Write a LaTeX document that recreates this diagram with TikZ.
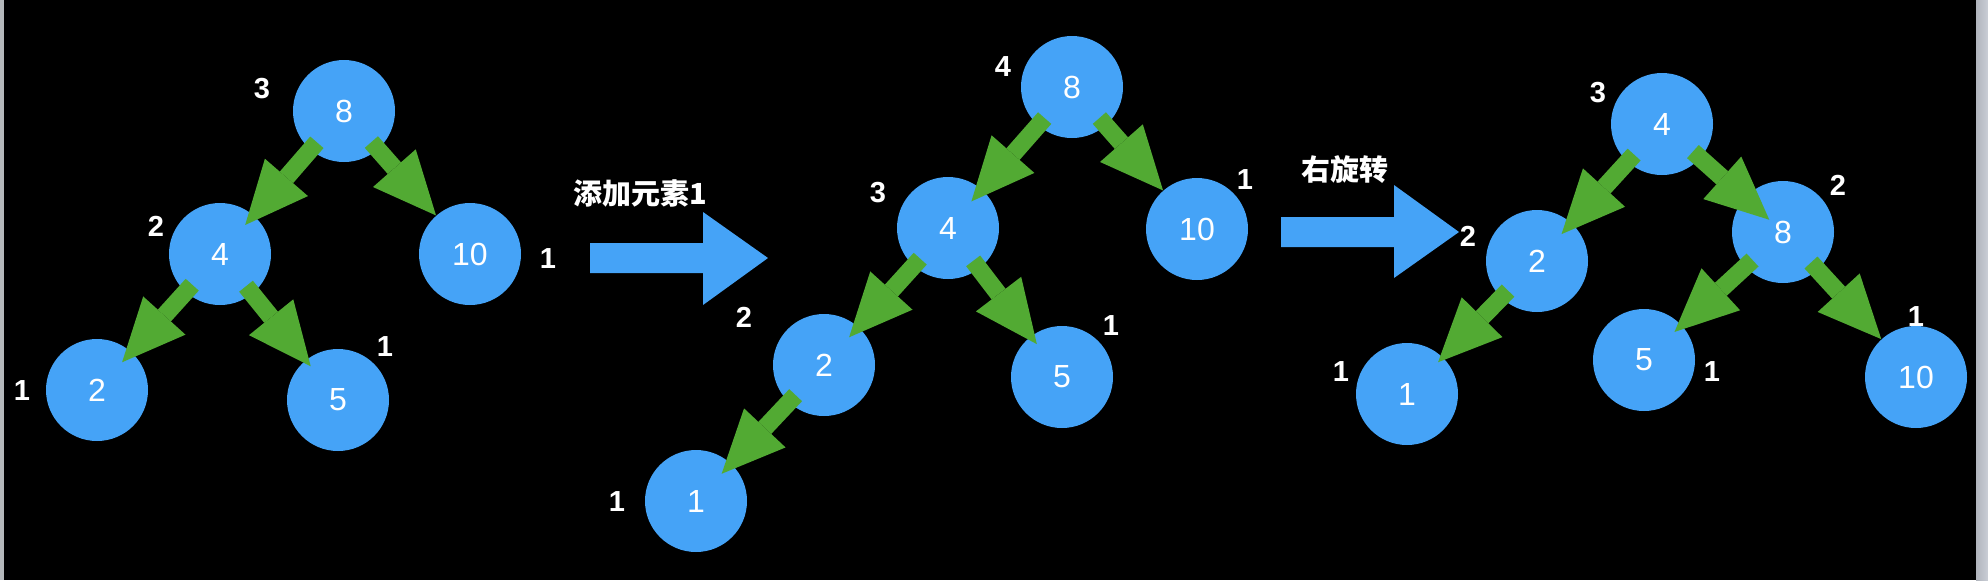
\documentclass[tikz,border=0pt]{standalone}
\usepackage{fontspec}
\setmainfont{Liberation Sans}
\newfontfamily\cjk{Noto Sans CJK SC}
\usetikzlibrary{arrows.meta}
\definecolor{nodeblue}{HTML}{45A3F7}
\definecolor{edgegreen}{HTML}{52AA33}
\definecolor{leftgrey}{HTML}{B4B8BC}
\definecolor{rgreyA}{HTML}{B0B4BC}
\definecolor{rgreyB}{HTML}{CACED6}
\tikzset{
  tnode/.style={circle, fill=nodeblue, minimum size=51pt, inner sep=0pt, text=white,
    font=\fontsize{16pt}{18pt}\selectfont},
  hlabel/.style={text=white, inner sep=0pt, font=\fontsize{14.5pt}{16pt}\selectfont\bfseries},
  cjklabel/.style={text=white, inner sep=0pt, font=\cjk\bfseries\fontsize{14.5pt}{17pt}\selectfont},
  edge/.style={draw=edgegreen, line width=8.8pt,
    -{Triangle[length=31.5pt, width=28.5pt, line width=0pt]}, shorten <=-5pt},
  bigarrow/.style={fill=nodeblue},
}
\begin{document}
\begin{tikzpicture}[x=0.5pt, y=-0.5pt]
\useasboundingbox (0,0) rectangle (1988,580);
\fill[black] (0,0) rectangle (1988,580);
\fill[leftgrey] (0,0) rectangle (4,580);
\shade[left color=rgreyA, right color=rgreyB] (1976,0) rectangle (1988,580);

% Tree 1
\node[tnode] (a8)  at (344,111) {8};
\node[tnode] (a4)  at (220,254) {4};
\node[tnode] (a10) at (470,254) {10};
\node[tnode] (a2)  at (97,390)  {2};
\node[tnode] (a5)  at (338,400) {5};
\draw[edge, shorten >=-6.5pt] (a8) -- (a4);
\draw[edge] (a8) -- (a10);
\draw[edge, shorten >=-7pt] (a4) -- (a2);
\draw[edge, shorten >=-4pt] (a4) -- (a5);

% Arrow 1
\fill[bigarrow] (590,243) -- (703,243) -- (703,212) -- (768,258) -- (703,305) -- (703,273) -- (590,273) -- cycle;
\node[cjklabel] (t1) at (640,193) {添加元素1};

% Tree 2
\node[tnode] (b8)  at (1072,87)  {8};
\node[tnode] (b4)  at (948,228)  {4};
\node[tnode] (b10) at (1197,229) {10};
\node[tnode] (b2)  at (824,365)  {2};
\node[tnode] (b5)  at (1062,377) {5};
\node[tnode] (b1)  at (696,501)  {1};
\draw[edge, shorten >=-8pt] (b8) -- (b4);
\draw[edge] (b8) -- (b10);
\draw[edge, shorten >=-7pt] (b4) -- (b2);
\draw[edge, shorten >=-5pt] (b4) -- (b5);
\draw[edge, shorten >=-7pt] (b2) -- (b1);

% Arrow 2
\fill[bigarrow] (1281,217) -- (1394,217) -- (1394,185) -- (1459,232) -- (1394,278) -- (1394,247) -- (1281,247) -- cycle;
\node[cjklabel] (t2) at (1345,170) {右旋转};

% Tree 3
\node[tnode] (c4)  at (1662,124) {4};
\node[tnode] (c2)  at (1537,261) {2};
\node[tnode] (c8)  at (1783,232) {8};
\node[tnode] (c1)  at (1407,394) {1};
\node[tnode] (c5)  at (1644,360) {5};
\node[tnode] (c10) at (1916,377) {10};
\draw[edge, shorten >=-7.5pt] (c4) -- (c2);
\draw[edge, shorten >=-16.5pt] (c4) -- (c8);
\draw[edge, shorten >=-3.5pt] (c2) -- (c1);
\draw[edge, shorten >=-5pt] (c8) -- (c5);
\draw[edge] (c8) -- (c10);

% Height labels
\node[hlabel] (la8)  at (262,89)  {3};
\node[hlabel] (la4)  at (156,226) {2};
\node[hlabel] (la10) at (548,259) {1};
\node[hlabel] (la5)  at (385,347) {1};
\node[hlabel] (la2)  at (22,391)  {1};

\node[hlabel] (lb8)  at (1003,67)  {4};
\node[hlabel] (lb4)  at (878,193)  {3};
\node[hlabel] (lb10) at (1245,180) {1};
\node[hlabel] (lb2)  at (744,317)  {2};
\node[hlabel] (lb5)  at (1111,326) {1};
\node[hlabel] (lb1)  at (617,502)  {1};

\node[hlabel] (lc4)  at (1598,93)  {3};
\node[hlabel] (lc8)  at (1838,185) {2};
\node[hlabel] (lc2)  at (1468,236) {2};
\node[hlabel] (lc1)  at (1341,372) {1};
\node[hlabel] (lc5)  at (1712,372) {1};
\node[hlabel] (lc10) at (1916,317) {1};
\end{tikzpicture}
\end{document}
